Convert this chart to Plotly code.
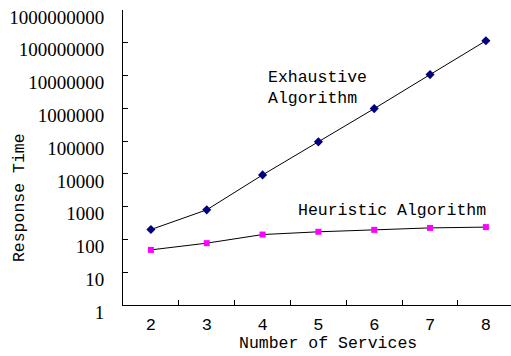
import plotly.graph_objects as go

services = ["2", "3", "4", "5", "6", "7", "8"]
exhaustive = [200, 800, 9300, 95000, 980000, 10700000, 115000000]
heuristic = [48, 77, 141, 171, 196, 225, 238]
ytick_vals = [1, 10, 100, 1000, 10000, 100000, 1000000, 10000000, 100000000, 1000000000]
ytick_text = [str(v) for v in ytick_vals]

MONO = "Liberation Mono"
SERIF = "Liberation Serif"

fig = go.Figure()
fig.add_trace(go.Scatter(x=services, y=exhaustive, mode="lines+markers",
                         line=dict(color="black", width=1),
                         marker=dict(symbol="diamond", size=7, color="#000080"),
                         name="Exhaustive Algorithm"))
fig.add_trace(go.Scatter(x=services, y=heuristic, mode="lines+markers",
                         line=dict(color="black", width=1),
                         marker=dict(symbol="square", size=6, color="#FF00FF"),
                         name="Heuristic Algorithm"))

fig.update_layout(
    width=511, height=356,
    margin=dict(l=123, r=0, t=10, b=51),
    paper_bgcolor="white", plot_bgcolor="white",
    showlegend=False,
    xaxis=dict(type="category", range=[-0.5, 6.45], tickson="boundaries",
               automargin=False,
               ticks="inside", ticklen=5, tickcolor="black",
               showline=True, linecolor="black", linewidth=1,
               showgrid=False, zeroline=False,
               ticklabelstandoff=4,
               tickfont=dict(family=MONO, size=17, color="black")),
    yaxis=dict(type="log", range=[-0.0002, 9.0002], tickvals=ytick_vals, ticktext=ytick_text,
               automargin=False, ticklabeloverflow="allow",
               ticks="inside", ticklen=5, tickcolor="black",
               showline=True, linecolor="black", linewidth=1,
               showgrid=False, zeroline=False,
               ticklabelshift=7, ticklabelstandoff=14,
               tickfont=dict(family=SERIF, size=19, color="black")),
)

fig.add_annotation(text="Number of Services", xref="paper", yref="paper",
                   x=0.528, y=-0.129, xanchor="center", yanchor="middle",
                   showarrow=False,
                   font=dict(family=MONO, size=16.5, color="black"))
fig.add_annotation(text="Response Time", xref="paper", yref="paper",
                   x=-0.265, y=0.363, xanchor="center", yanchor="middle",
                   textangle=-90, showarrow=False,
                   font=dict(family=MONO, size=16.5, color="black"))
fig.add_annotation(text="Exhaustive<br>Algorithm", xref="x", yref="paper",
                   x=2.0, y=0.736, xanchor="left", yanchor="middle", align="left",
                   xshift=3, showarrow=False,
                   font=dict(family=MONO, size=16.5, color="black"))
fig.add_annotation(text="Heuristic Algorithm", xref="x", yref="paper",
                   x=2.5, y=0.322, xanchor="left", yanchor="middle",
                   xshift=6, showarrow=False,
                   font=dict(family=MONO, size=16.5, color="black"))

fig.write_html("out.html", config={"displayModeBar": False},
               post_script="document.body.style.margin='0';document.body.style.overflow='hidden';")
